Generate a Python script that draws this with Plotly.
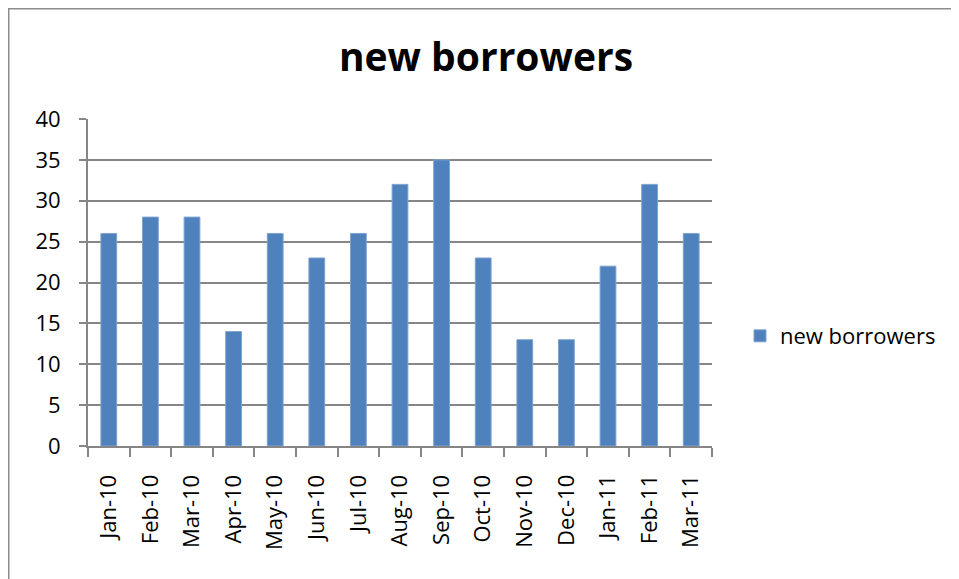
import plotly.graph_objects as go

months = ["Jan-10", "Feb-10", "Mar-10", "Apr-10", "May-10", "Jun-10", "Jul-10", "Aug-10",
          "Sep-10", "Oct-10", "Nov-10", "Dec-10", "Jan-11", "Feb-11", "Mar-11"]
new_borrowers = [26, 28, 28, 14, 26, 23, 26, 32, 35, 23, 13, 13, 22, 32, 26]
y_ticks = [0, 5, 10, 15, 20, 25, 30, 35, 40]

W, H = 959, 579
L, R, T, B = 80, 255, 111, 141
pw, ph = W - L - R, H - T - B
FONT = "Open Sans"
GRID = "#868686"

fig = go.Figure()
fig.add_trace(go.Bar(
    x=months, y=new_borrowers, name="new borrowers",
    marker=dict(color="#4F81BD", line=dict(color="#7FA3D0", width=1)),
))

fig.update_layout(
    width=W, height=H,
    margin=dict(l=L, r=R, t=T, b=B),
    paper_bgcolor="white", plot_bgcolor="white",
    font=dict(family=FONT, size=22, color="black"),
    bargap=0.62,
    showlegend=True,
    title=dict(text="<b>new borrowers</b>", x=478 / W, xanchor="center",
               y=1 - 49 / H, yanchor="middle",
               font=dict(family=FONT, size=39, color="black")),
    legend=dict(x=(732 - L) / pw, xanchor="left", y=(H - B - 328) / ph, yanchor="middle",
                font=dict(family=FONT, size=22, color="black"), bgcolor="rgba(0,0,0,0)"),
    xaxis=dict(type="category", range=[-0.5, len(months) - 0.5], tickangle=-90,
               showline=True, linecolor=GRID, linewidth=2,
               ticks="outside", tickson="boundaries", ticklen=9, tickcolor=GRID, tickwidth=2,
               ticklabelstandoff=18,
               showgrid=False, fixedrange=True),
    yaxis=dict(range=[0, 40], tickvals=y_ticks, showline=True, linecolor=GRID, linewidth=2,
               ticks="outside", ticklen=7, tickcolor=GRID, tickwidth=2,
               ticklabelstandoff=14,
               showgrid=True, gridcolor=GRID, gridwidth=2, zeroline=False, fixedrange=True),
)

# chart border: only left and top edges are visible in the picture
x_left = -L / pw
y_top = (H - B) / ph
x_right = (W - L) / pw
y_bottom = -B / ph
fig.add_shape(type="line", xref="paper", yref="paper",
              x0=x_left, x1=x_left, y0=y_bottom, y1=y_top,
              line=dict(color="#8C8C8C", width=3), layer="below")
fig.add_shape(type="line", xref="paper", yref="paper",
              x0=x_left, x1=x_right + 0.05, y0=y_top, y1=y_top,
              line=dict(color="#8C8C8C", width=3), layer="below")

fig.write_html("out.html", config={"displayModeBar": False},
               post_script="document.documentElement.style.overflow='hidden';document.body.style.overflow='hidden';")
